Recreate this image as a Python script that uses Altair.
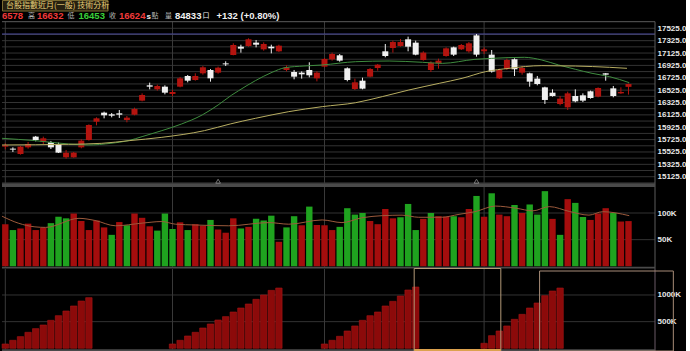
import altair as alt
import pandas as pd

# ---------------- data ----------------
bar_idx = list(range(1, 84))

hdr_open, hdr_high, hdr_low, hdr_close = 16578, 16632, 16453, 16624
hdr_volume = 84833
hdr_change, hdr_pct = 132, 0.80

opens = [15611, 15579, 15492, 15600, 15773, 15692, 15681, 15654, 15438, 15438,
         15600, 15719, 16015, 16161, 16134, 16150, 16042, 16128, 16355, 16603,
         16538, 16581, 16463, 16581, 16754, 16689, 16797, 16851, 16808, 16958,
         17093, 17228, 17239, 17293, 17185, 17228, 17153, 16851, 16818, 16808,
         16851, 16716, 16905, 17023, 17088, 16878, 16543, 16678, 16743, 16883,
         17153, 17206, 17239, 17347, 17293, 17012, 16851, 16958, 17077, 17217,
         17185, 17153, 17411, 17153, 17099, 16716, 16867, 17023, 16808, 16797,
         16711, 16570, 16484, 16301, 16247, 16430, 16441, 16506, 16420, 16797,
         16554, 16473, hdr_open]
highs = [15665, 15600, 15622, 15686, 15784, 15773, 15703, 15676, 15557, 15525,
         15730, 15972, 16085, 16177, 16155, 16204, 16107, 16242, 16473, 16646,
         16614, 16603, 16527, 16738, 16770, 16797, 16915, 16867, 16905, 16991,
         17282, 17260, 17363, 17336, 17298, 17260, 17260, 16926, 16851, 16829,
         16975, 16829, 17045, 17131, 17109, 16894, 16711, 16727, 16883, 16948,
         17271, 17325, 17352, 17390, 17325, 17153, 16991, 17034, 17217, 17228,
         17271, 17303, 17433, 17217, 17174, 16872, 17034, 17039, 16915, 16808,
         16754, 16581, 16538, 16430, 16500, 16538, 16473, 16517, 16570, 16802,
         16592, 16570, hdr_high]
lows = [15568, 15525, 15482, 15579, 15697, 15654, 15573, 15508, 15417, 15433,
        15584, 15708, 15956, 16069, 16085, 16075, 16004, 16118, 16344, 16538,
        16517, 16457, 16430, 16570, 16651, 16678, 16775, 16662, 16791, 16915,
        17088, 17131, 17228, 17217, 17163, 17120, 17142, 16829, 16700, 16711,
        16732, 16667, 16894, 17002, 16985, 16667, 16527, 16538, 16732, 16840,
        17056, 17131, 17228, 17153, 17088, 17002, 16818, 16872, 17066, 17077,
        17174, 17131, 17066, 17109, 16808, 16705, 16851, 16754, 16775, 16581,
        16603, 16301, 16420, 16279, 16204, 16328, 16333, 16387, 16409, 16678,
        16409, 16463, hdr_low]
closes = [15633, 15563, 15611, 15654, 15719, 15746, 15600, 15514, 15514, 15514,
          15708, 15961, 16069, 16118, 16112, 16128, 16080, 16220, 16446, 16581,
          16592, 16484, 16495, 16716, 16678, 16754, 16894, 16716, 16888, 16942,
          17255, 17196, 17347, 17260, 17271, 17201, 17244, 16894, 16743, 16781,
          16765, 16808, 17029, 17109, 17002, 16689, 16651, 16549, 16867, 16937,
          17077, 17303, 17303, 17228, 17099, 17131, 16969, 17002, 17201, 17099,
          17255, 17282, 17099, 17185, 16824, 16851, 17012, 16862, 16883, 16662,
          16624, 16366, 16430, 16387, 16473, 16344, 16355, 16398, 16560, 16775,
          16430, 16495, hdr_close]

# moving-average lines (bar position, price)
ma_green_x = [0.57, 4.9, 9.3, 11.9, 14.9, 17.2, 19.0, 21.6, 24.2, 26.9, 29.0, 30.8,
              31.7, 33.9, 36.1, 37.8, 40.3, 42.7, 47.1, 51.5, 55.9, 58.5, 62.8, 65.0,
              69.3, 71.6, 73.8, 76.0, 78.2, 80.5, 83.1]
ma_green_y = [15746, 15708, 15654, 15638, 15665, 15708, 15773, 15870, 15978, 16123, 16285, 16446,
              16516, 16678, 16813, 16888, 16915, 16932, 16985, 16996, 16975, 16958, 17023, 17039,
              17056, 17012, 16932, 16862, 16797, 16743, 16646]
ma_yellow_x = [0.57, 9.3, 13.7, 17.3, 21.6, 27.2, 30.6, 33.9, 38.3, 42.7, 47.1, 50.6,
               54.1, 58.1, 61.1, 64.2, 67.3, 71.6, 76.0, 80.5, 82.8]
ma_yellow_y = [15638, 15649, 15665, 15708, 15762, 15870, 15978, 16069, 16177, 16258, 16322, 16420,
               16527, 16635, 16716, 16824, 16878, 16921, 16915, 16894, 16878]

max_high_line = 17433
month_start = [1, 23, 43, 64]
marker_bars = [29, 63]

# volume (thousands of contracts) and its direction colour
volume_k = [79, 68, 71, 80, 68, 72.5, 81, 93, 90, 99,
            85, 68, 86, 73, 59, 83, 77, 99, 91, 75,
            67, 99, 70, 82.5, 68, 79, 76, 87, 69, 63,
            90, 71, 74, 89, 86, 95, 46, 73, 94, 77,
            112, 77.5, 77, 68, 74, 109, 97, 100, 85, 79,
            107.5, 90, 92, 117, 68, 89, 100, 94, 93, 94,
            92, 107.5, 132, 93, 137, 97, 94, 115, 100, 116,
            97, 141, 89, 59, 126, 119, 92.5, 87, 99, 109,
            100, 84, hdr_volume / 1000]
volume_dir = list("rgrrrrgggr" "rrrrgrgrrr" "gggrgrrgrr" "rgrgggrggr" "grrrggggrr"
                  "rrgggrgrrg" "rrgrgrrgrg" "ggrgrggrrr" "grr")
vol_ma_x = [0.57, 2.7, 4.9, 6.3, 10.7, 12.8, 15.5, 19.0, 21.6, 23.4, 26.0, 30.4, 35.7, 38.3,
            42.7, 45.3, 47.9, 50.6, 53.2, 55.4, 58.4, 60.7, 62.8, 65.5, 68.2, 70.4, 72.6,
            75.2, 77.8, 79.6, 83.1]
vol_ma_y = [94, 81, 74, 73, 90, 86, 76, 81, 84, 79, 77.5, 76, 82, 79,
            87, 82, 91, 95, 96, 92, 92, 97.5, 102.5, 113, 109, 104, 112,
            103, 96, 102.5, 95]

# open interest (thousands)
oi_k = [81, 150, 219, 300, 369, 437, 525, 612, 700, 794,
        887, 950, 0, 0, 0, 0, 0, 0, 0, 0,
        0, 0, 81, 150, 231, 300, 381, 456, 531, 594,
        681, 756, 831, 919, 1000, 1087, 1131, 0, 0, 0,
        0, 0, 81, 150, 225, 325, 419, 525, 612, 681,
        794, 881, 981, 1094, 1150, 0, 0, 0, 0, 0,
        0, 0, 0, 94, 237, 325, 419, 544, 637, 756,
        850, 987, 1075, 1131, 0, 0, 0, 0, 0, 0,
        0, 0, 0]
oi_box_start = [54.8, 71.3]
oi_box_end = [66.2, 88.9]

price_ticks = [15125, 15325, 15525, 15725, 15925, 16125, 16325, 16525,
               16725, 16925, 17125, 17325, 17525]
price_grid = list(range(15025, 17526, 100))
vol_ticks = [50, 100]
oi_ticks = [500, 1000]

# ---------------- styling ----------------
W = 653
PH, VH, OH = 187, 82, 82
C_RED = "#b3140f"
C_WHITE = "#f0f0f0"
V_RED = "#a50d0d"
V_GREEN = "#1fa31f"
OI_RED = "#8c0a0a"
GRID = "#333333"
FRAME = "#5c5c5c"
BAND = "#4a4a4a"
LBL_FONT = "Liberation Sans"
CJK = "Noto Sans CJK TC"

xs = alt.Scale(domain=[0.5658, 86.487], nice=False, zero=False, padding=0)
X = alt.X("i:Q", scale=xs, axis=None)


def raxis(values, expr=None, fmt=None):
    kw = dict(orient="right", values=values, ticks=False, domain=False, grid=False,
              labelPadding=2, labelColor="#e8e8e8", labelFont=LBL_FONT,
              labelFontWeight="bold", labelFontSize=8, title=None)
    if expr:
        kw["labelExpr"] = expr
    if fmt:
        kw["format"] = fmt
    return alt.Axis(**kw)


one = pd.DataFrame({"k": [0]})


def hrule(y, x1, x2, color, width=1):
    return alt.Chart(one).mark_rule(color=color, strokeWidth=width).encode(
        x=alt.value(x1), x2=alt.value(x2), y=alt.value(y))


def vrule(x, y1, y2, color, width=1):
    return alt.Chart(one).mark_rule(color=color, strokeWidth=width).encode(
        x=alt.value(x), y=alt.value(y1), y2=alt.value(y2))


def band(y1, y2):
    return alt.Chart(one).mark_rect(color=BAND).encode(
        x=alt.value(0), x2=alt.value(W), y=alt.value(y1), y2=alt.value(y2))


def txt(s, x, y, color, size, font=LBL_FONT, weight="bold"):
    return alt.Chart(pd.DataFrame({"t": [s]})).mark_text(
        align="left", baseline="middle", color=color, fontSize=size,
        font=font, fontWeight=weight).encode(text="t:N", x=alt.value(x), y=alt.value(y))


# ---------------- price panel ----------------
ys_p = alt.Scale(domain=[14958.5, 17982.7], nice=False, zero=False, padding=0)
ax_p = raxis(price_ticks, fmt=".1f")

candles = pd.DataFrame({"i": bar_idx, "open": opens, "high": highs,
                        "low": lows, "close": closes})
updown = alt.condition("datum.close >= datum.open", alt.value(C_RED), alt.value(C_WHITE))

p_grid = alt.Chart(pd.DataFrame({"lvl": price_grid})).mark_rule(
    color=GRID, strokeWidth=1).encode(
    y=alt.Y("lvl:Q", scale=ys_p, axis=ax_p), x=alt.value(0), x2=alt.value(W))
p_month = alt.Chart(pd.DataFrame({"i": month_start})).mark_rule(
    color="#3a3a3a", strokeWidth=1).encode(x=X, y=alt.value(21.7), y2=alt.value(183.3))
p_max = alt.Chart(pd.DataFrame({"lvl": [max_high_line]})).mark_rule(
    color="#4a4a9c", strokeWidth=1).encode(
    y=alt.Y("lvl:Q", scale=ys_p, axis=ax_p), x=alt.value(0), x2=alt.value(W))
wicks = alt.Chart(candles).mark_rule(strokeWidth=1).encode(
    x=X, y=alt.Y("low:Q", scale=ys_p, axis=ax_p), y2="high:Q", color=updown)
bodies = alt.Chart(candles).mark_bar(size=6).encode(
    x=X, y=alt.Y("open:Q", scale=ys_p, axis=ax_p), y2="close:Q", color=updown)
ma_g = alt.Chart(pd.DataFrame({"i": ma_green_x, "v": ma_green_y})).mark_line(
    color="#3f8c3f", strokeWidth=1, interpolate="monotone").encode(
    x=X, y=alt.Y("v:Q", scale=ys_p, axis=ax_p))
ma_y = alt.Chart(pd.DataFrame({"i": ma_yellow_x, "v": ma_yellow_y})).mark_line(
    color="#b8ae62", strokeWidth=1, interpolate="monotone").encode(
    x=X, y=alt.Y("v:Q", scale=ys_p, axis=ax_p))
markers = alt.Chart(pd.DataFrame({"i": marker_bars})).mark_point(
    shape="triangle-up", filled=False, size=22, color="#a0a0a0", strokeWidth=1).encode(
    x=X, y=alt.value(181.2))

tab = alt.Chart(one).mark_rect(fill="#262010", stroke="#7c6c32", strokeWidth=1).encode(
    x=alt.value(0.5), x2=alt.value(106), y=alt.value(0.5), y2=alt.value(11))
header = [
    tab,
    txt("台股指數近月(一般) 技術分析", 4, 6, "#e6d07a", 8, CJK, "normal"),
    txt(str(hdr_open)[-4:], 0, 16, "#f03a3a", 9.5),
    txt("高", 26, 16, "#b4b4b4", 7, CJK, "normal"),
    txt(str(hdr_high), 35, 16, "#f03a3a", 9.5),
    txt("低", 65.5, 16, "#b4b4b4", 7, CJK, "normal"),
    txt(str(hdr_low), 76.5, 16, "#3ad03a", 9.5),
    txt("收", 107, 16, "#b4b4b4", 7, CJK, "normal"),
    txt(str(hdr_close), 117, 16, "#f03a3a", 9.5),
    txt("s", 144.5, 16.5, "#f0f0f0", 8),
    txt("點", 149.5, 16, "#b4b4b4", 7, CJK, "normal"),
    txt("量", 163, 16, "#b4b4b4", 7, CJK, "normal"),
    txt(str(hdr_volume), 173, 16, "#f0f0f0", 9.5),
    txt("口", 200.5, 16, "#f0f0f0", 7, CJK, "normal"),
    txt(f"+{hdr_change} (+{hdr_pct:.2f}%)", 214.5, 16, "#f0f0f0", 9.5),
]

price = alt.layer(
    p_grid, p_month, p_max, wicks, bodies, ma_g, ma_y,
    hrule(21.7, 0, W, FRAME), vrule(W, 21.7, PH, FRAME),
    band(183.3, PH), markers, *header
).properties(width=W, height=PH)

# ---------------- volume panel ----------------
ys_v = alt.Scale(domain=[-5.07, 148.8], nice=False, zero=False, padding=0)
ax_v = raxis(vol_ticks, expr="datum.value + 'K'")
vol_df = pd.DataFrame({"i": bar_idx, "v": volume_k, "d": volume_dir})

v_grid = alt.Chart(pd.DataFrame({"lvl": vol_ticks})).mark_rule(
    color=GRID, strokeWidth=1).encode(
    y=alt.Y("lvl:Q", scale=ys_v, axis=ax_v), x=alt.value(0), x2=alt.value(W))
v_month = alt.Chart(pd.DataFrame({"i": month_start})).mark_rule(
    color="#3a3a3a", strokeWidth=1).encode(x=X, y=alt.value(0), y2=alt.value(79.7))
v_bars = alt.Chart(vol_df).mark_bar(size=6.4).encode(
    x=X, y=alt.Y("v:Q", scale=ys_v, axis=ax_v), y2=alt.datum(0),
    color=alt.Color("d:N", scale=alt.Scale(domain=["r", "g"], range=[V_RED, V_GREEN]),
                    legend=None))
v_ma = alt.Chart(pd.DataFrame({"i": vol_ma_x, "v": vol_ma_y})).mark_line(
    color="#9c5a3c", strokeWidth=1, interpolate="monotone").encode(
    x=X, y=alt.Y("v:Q", scale=ys_v, axis=ax_v))

volume = alt.layer(
    v_grid, v_month, v_bars, v_ma, vrule(W, 0, VH, FRAME), band(79.7, 81.6)
).properties(width=W, height=VH)

# ---------------- open interest panel ----------------
ys_o = alt.Scale(domain=[-50.7, 1487.8], nice=False, zero=False, padding=0)
ax_o = raxis(oi_ticks, expr="datum.value + 'K'")
oi_df = pd.DataFrame({"i": bar_idx, "oi": oi_k})

o_grid = alt.Chart(pd.DataFrame({"lvl": oi_ticks})).mark_rule(
    color=GRID, strokeWidth=1).encode(
    y=alt.Y("lvl:Q", scale=ys_o, axis=ax_o), x=alt.value(0), x2=alt.value(W))
o_month = alt.Chart(pd.DataFrame({"i": month_start})).mark_rule(
    color="#3a3a3a", strokeWidth=1).encode(x=X, y=alt.value(0), y2=alt.value(80.3))
o_bars = alt.Chart(oi_df).transform_filter("datum.oi > 0").mark_bar(
    size=6.4, color=OI_RED, stroke="#a81616", strokeWidth=0.6).encode(
    x=X, y=alt.Y("oi:Q", scale=ys_o, axis=ax_o), y2=alt.datum(0))
box1 = alt.Chart(pd.DataFrame({"i": [oi_box_start[0]], "i2": [oi_box_end[0]]})).mark_rect(
    fillOpacity=0, stroke="#b49a78", strokeWidth=1).encode(
    x=X, x2="i2:Q", y=alt.value(-0.5), y2=alt.value(82))
box1_base = alt.Chart(pd.DataFrame({"i": [oi_box_start[0]], "i2": [oi_box_end[0]]})).mark_rule(
    color="#dca24e", strokeWidth=2).encode(x=X, x2="i2:Q", y=alt.value(81))
box2 = alt.Chart(pd.DataFrame({"i": [oi_box_start[1]], "i2": [oi_box_end[1]]})).mark_rect(
    fillOpacity=0, stroke="#a88c78", strokeWidth=1).encode(
    x=X, x2="i2:Q", y=alt.value(2), y2=alt.value(82))

oi = alt.layer(
    o_grid, o_month, o_bars, vrule(W, 0, OH, "#6a5a66"), band(80.3, OH),
    box1, box1_base, box2
).properties(width=W, height=OH)

chart = alt.vconcat(price, volume, oi, spacing=0, bounds="flush", padding=0).configure(
    background="#000000"
).configure_view(stroke=None)

chart.save("out.html", embed_options={"renderer": "svg", "actions": False})
